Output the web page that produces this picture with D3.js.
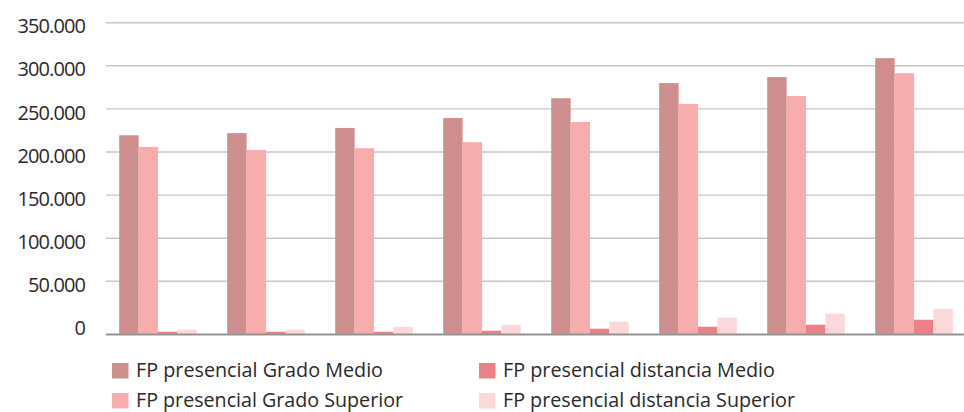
<!DOCTYPE html>
<html><head><meta charset="utf-8">
<script src="https://cdn.jsdelivr.net/npm/d3@7"></script>
<style>
html,body{margin:0;padding:0;background:#fff;}
text{font-family:"Open Sans",sans-serif;fill:#2b2a29;}
</style></head>
<body><svg id="c" width="964" height="412"></svg>
<script>
const categories = ["1","2","3","4","5","6","7","8"];
const seriesNames = ["FP presencial Grado Medio","FP presencial Grado Superior","FP presencial distancia Medio","FP presencial distancia Superior"];
const gradoMedio      = [231000, 233500, 239500, 251000, 274000, 291500, 298500, 320500];
const gradoSuperior   = [217500, 214000, 216000, 223000, 246500, 267500, 276500, 303000];
const distanciaMedio  = [3100, 3100, 3100, 4300, 6600, 8900, 11300, 17000];
const distanciaSuperior = [5500, 5500, 8900, 11300, 14700, 19400, 24000, 29800];
const tickValues = [0, 50000, 100000, 150000, 200000, 250000, 300000, 350000];
const colors = ["#cf8e8e", "#f8adad", "#ec8087", "#fcd9d8"];

const allSeries = [gradoMedio, gradoSuperior, distanciaMedio, distanciaSuperior];
const svg = d3.select("#c");
const left = 106, right = 964;
const axisGap = 10;

const y = d3.scaleLinear().domain([0, 350000]).range([324.4, 22.7]);
const baseY = y(0) + axisGap;

const x = d3.scaleBand().domain(categories).range([104, 968]).paddingInner(0.2815).paddingOuter(0.1407);
const xs = d3.scaleBand().domain(d3.range(4)).range([0, x.bandwidth()]).padding(0);

const fmt = v => d3.format(",")(v).replace(/,/g, ".");

// gridlines (skip 0; the category axis line sits at the bottom)
svg.append("g").selectAll("line").data(tickValues.filter(t => t > 0)).join("line")
  .attr("x1", left).attr("x2", right)
  .attr("y1", d => y(d)).attr("y2", d => y(d))
  .attr("stroke", "#c8c8c8").attr("stroke-width", 1.4);

// y labels
svg.append("g").selectAll("text").data(tickValues).join("text")
  .attr("x", 85).attr("y", d => y(d) + 10.6)
  .attr("text-anchor", "end")
  .attr("font-size", 20).attr("letter-spacing", -0.9)
  .text(fmt);

// bars
const g = svg.append("g");
categories.forEach((c, i) => {
  allSeries.forEach((s, k) => {
    g.append("rect")
      .attr("x", x(c) + xs(k))
      .attr("width", xs.bandwidth())
      .attr("y", y(s[i]) + axisGap)
      .attr("height", y(0) - y(s[i]))
      .attr("fill", colors[k]);
  });
});

// category axis line
svg.append("line").attr("x1", left).attr("x2", right)
  .attr("y1", baseY).attr("y2", baseY)
  .attr("stroke", "#939393").attr("stroke-width", 2);

// legend
const legPos = [[112, 363], [112, 393], [479, 363], [479, 393]];
const legW = [247, 267, 272, 292];
seriesNames.forEach((n, k) => {
  const [lx, ly] = legPos[k];
  svg.append("rect").attr("x", lx).attr("y", ly).attr("width", 16.5).attr("height", 15.5).attr("fill", colors[k]);
  svg.append("text").attr("x", lx + 24).attr("y", ly + 14)
    .attr("font-size", 20).attr("textLength", legW[k]).attr("lengthAdjust", "spacingAndGlyphs")
    .text(n);
});
</script></body></html>
